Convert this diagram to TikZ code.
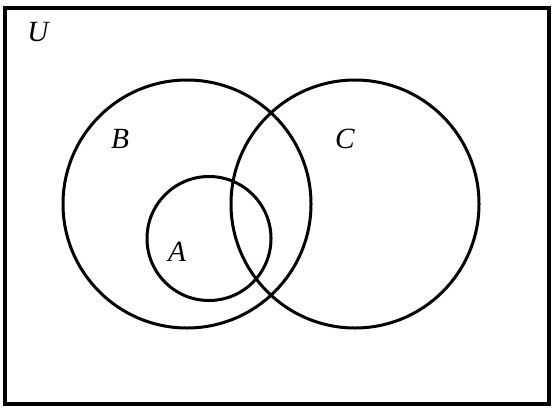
\documentclass[tikz,border=0pt]{standalone}
\usepackage{fontspec}
\setmainfont{Liberation Serif}
\tikzset{
  setline/.style={line width=2.25pt},
  setlabel/.style={anchor=center,inner sep=0.75pt,font=\fontsize{22}{26}\selectfont\itshape}
}
\begin{document}
\begin{tikzpicture}[x=0.75pt,y=0.75pt,yscale=-1,xscale=1]
\useasboundingbox (0,0) rectangle (555,407);

%Shape: Rectangle [universe]
\draw [line width=3pt] (5,8) rectangle (548.5,403.5) ;
%Shape: Circle [B]
\draw [setline] (187,204) circle (124) ;
%Shape: Circle [C]
\draw [setline] (355,204) circle (124) ;
%Shape: Circle [A]
\draw [setline] (209,238.5) circle (62) ;

% Text Node
\node [setlabel] (labU) at (38,32) {U};
% Text Node
\node [setlabel] (labB) at (120,139) {B};
% Text Node
\node [setlabel] (labC) at (345,139) {C};
% Text Node
\node [setlabel] (labA) at (177,252) {A};

\end{tikzpicture}
\end{document}
